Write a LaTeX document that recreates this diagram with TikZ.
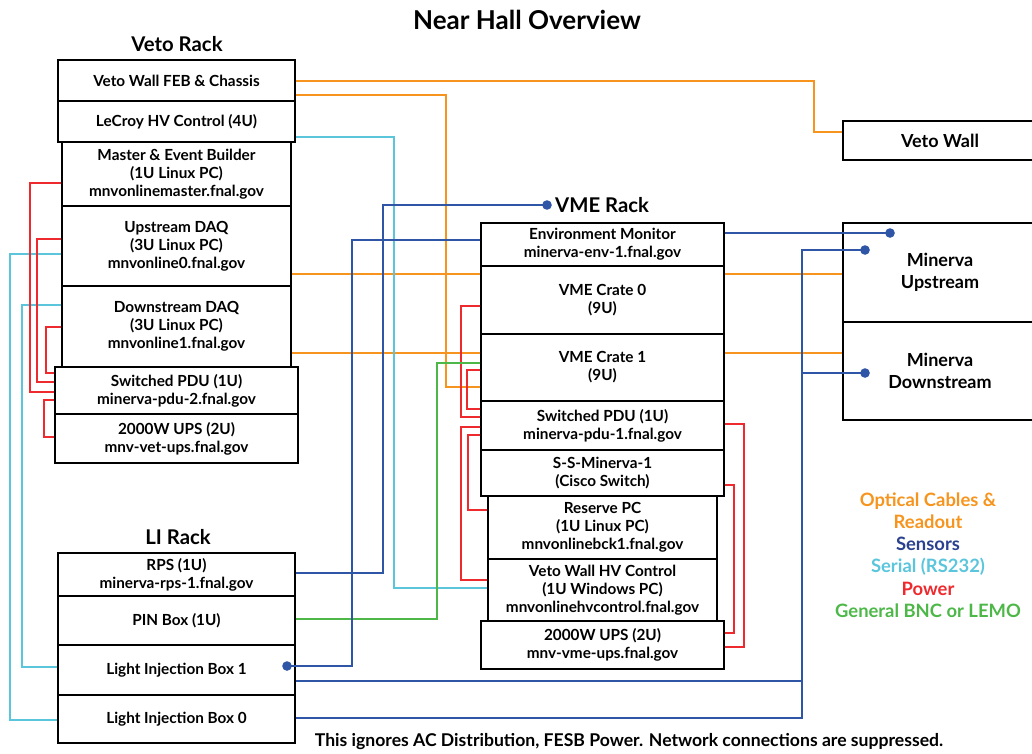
\documentclass[tikz,border=0pt]{standalone}
\usepackage{fontspec}
\setmainfont{Lato}[BoldFont={Lato Bold}]
\usetikzlibrary{calc}
\pgfdeclarelayer{bg}
\pgfsetlayers{bg,main}
\definecolor{copt}{HTML}{F7941D}
\definecolor{csen}{HTML}{2F56A6}
\definecolor{csenleg}{HTML}{2B418F}
\definecolor{cser}{HTML}{5BC5DC}
\definecolor{cpow}{HTML}{EE2A2E}
\definecolor{cbnc}{HTML}{4DB848}
\newcommand\mybf{\fontsize{15.3}{17.8}\selectfont\bfseries}
\tikzset{
  rack/.style={draw, line width=2.5pt, fill=white, align=center, inner sep=0pt, font=\mybf},
  big/.style={font=\fontsize{18}{22}\selectfont\bfseries},
  ttl/.style={font=\fontsize{26}{28}\selectfont\bfseries, inner sep=0pt},
  racktitle/.style={font=\fontsize{20.3}{23}\selectfont\bfseries, inner sep=0pt},
  wire/.style={line width=2pt},
  optw/.style={wire, copt},
  senw/.style={wire, csen},
  serw/.style={wire, cser},
  poww/.style={wire, cpow},
  bncw/.style={wire, cbnc},
  sdot/.style={fill=csen, draw=none},
}
\begin{document}
\begin{tikzpicture}[x=1pt,y=-1pt]
\useasboundingbox (0,0) rectangle (1032,753);
% titles
\node[ttl] (title) at (527,20) {Near Hall Overview};
\node[racktitle] (vetot) at (177,44) {Veto Rack};
\node[racktitle] (lit) at (178,537) {LI Rack};
\node[racktitle, anchor=west] (vmet) at (555,205) {VME Rack};
% Veto rack
\node[rack,minimum width=237pt,minimum height=41pt] (vfeb) at (176.5,80.5) {Veto Wall FEB \& Chassis};
\node[rack,minimum width=237pt,minimum height=41pt] (lecroy) at (176.5,121.5) {LeCroy HV Control (4U)};
\node[rack,minimum width=229pt,minimum height=64pt] (master) at (176.5,174) {Master \& Event Builder\\(1U Linux PC)\\mnvonlinemaster.fnal.gov};
\node[rack,minimum width=229pt,minimum height=80pt] (updaq) at (176.5,246) {Upstream DAQ\\(3U Linux PC)\\mnvonline0.fnal.gov};
\node[rack,minimum width=229pt,minimum height=81pt] (dndaq) at (176.5,326.5) {Downstream DAQ\\(3U Linux PC)\\mnvonline1.fnal.gov};
\node[rack,minimum width=243pt,minimum height=47pt] (pdutwo) at (176.5,390.5) {Switched PDU (1U)\\minerva-pdu-2.fnal.gov};
\node[rack,minimum width=243pt,minimum height=49pt] (upstwo) at (176.5,438.5) {2000W UPS (2U)\\mnv-vet-ups.fnal.gov};
% LI rack
\node[rack,minimum width=237pt,minimum height=43pt] (rps) at (176.5,574.5) {RPS (1U)\\minerva-rps-1.fnal.gov};
\node[rack,minimum width=237pt,minimum height=49pt] (pin) at (176.5,620.5) {PIN Box (1U)};
\node[rack,minimum width=237pt,minimum height=50pt] (libone) at (176.5,670) {Light Injection Box 1};
\node[rack,minimum width=237pt,minimum height=48pt] (libzero) at (176.5,719) {Light Injection Box 0};
% VME rack
\node[rack,minimum width=243pt,minimum height=43pt] (env) at (602.5,244.5) {Environment Monitor\\minerva-env-1.fnal.gov};
\node[rack,minimum width=243pt,minimum height=68pt] (crzero) at (602.5,300) {VME Crate 0\\(9U)};
\node[rack,minimum width=243pt,minimum height=67pt] (crone) at (602.5,367.5) {VME Crate 1\\(9U)};
\node[rack,minimum width=243pt,minimum height=49pt] (pduone) at (602.5,425.5) {Switched PDU (1U)\\minerva-pdu-1.fnal.gov};
\node[rack,minimum width=243pt,minimum height=46pt] (sw) at (602.5,473) {S-S-Minerva-1\\(Cisco Switch)};
\node[rack,minimum width=229pt,minimum height=63pt] (rpc) at (602.5,527.5) {Reserve PC\\(1U Linux PC)\\mnvonlinebck1.fnal.gov};
\node[rack,minimum width=229pt,minimum height=62pt] (hvc) at (602.5,590) {Veto Wall HV Control\\(1U Windows PC)\\mnvonlinehvcontrol.fnal.gov};
\node[rack,minimum width=243pt,minimum height=48pt] (upsone) at (602.5,645) {2000W UPS (2U)\\mnv-vme-ups.fnal.gov};
% detectors
\node[rack,big,minimum width=194pt,minimum height=39pt] (vwall) at (940,140.5) {Veto Wall};
\node[rack,big,minimum width=194pt,minimum height=99pt] (minup) at (940,272.5) {Minerva\\Upstream};
\node[rack,big,minimum width=194pt,minimum height=98pt] (mindn) at (940,371) {Minerva\\Downstream};
% legend and note
\node[align=center, inner sep=0pt, font=\fontsize{18.4}{22.3}\selectfont\bfseries] (legend) at (928,555)
  {\textcolor{copt}{Optical Cables \&}\\\textcolor{copt}{Readout}\\\textcolor{csenleg}{Sensors}\\\textcolor{cser}{Serial (RS232)}\\\textcolor{cpow}{Power}\\\textcolor{cbnc}{General BNC or LEMO}};
\node[inner sep=0pt, font=\fontsize{17.6}{20}\selectfont\bfseries] (note) at (629,742) {This ignores AC Distribution, FESB Power. Network connections are suppressed.};
% coordinates for dots
\coordinate (vmedot) at (547,205);
\coordinate (lidot) at (287,666);
\coordinate (envdot) at (890,233);
\coordinate (mudot) at (865,250);
\coordinate (mddot) at (865,373);
\begin{pgfonlayer}{bg}
% optical
\draw[optw] (vfeb.east) -| ([xshift=-28pt,yshift=8.5pt]vwall.west) -- ([yshift=8.5pt]vwall.west);
\draw[optw] ([yshift=-14.5pt]vfeb.east) -| ([xshift=-34pt,yshift=-19.5pt]crone.west) -- ([yshift=-19.5pt]crone.west);
\draw[optw] ([yshift=-28pt]updaq.east) -- ([yshift=-1.5pt]minup.west);
\draw[optw] ([yshift=-26.5pt]dndaq.east) -- ([yshift=18pt]mindn.west);
% serial
\draw[serw] ([yshift=-15.5pt]lecroy.east) -| ([xshift=-93pt,yshift=2pt]hvc.west) -- ([yshift=2pt]hvc.west);
\draw[serw] ([yshift=-8pt]updaq.west) -| ([xshift=-47pt,yshift=-1pt]libzero.west) -- ([yshift=-1pt]libzero.west);
\draw[serw] ([yshift=21.5pt]dndaq.west) -| ([xshift=-35pt,yshift=3pt]libone.west) -- ([yshift=3pt]libone.west);
% power, veto rack
\draw[poww] ([yshift=-9pt]master.west) -| ([xshift=-24pt,yshift=-1.5pt]pdutwo.west) -- ([yshift=-1.5pt]pdutwo.west);
\draw[poww] ([yshift=7pt]updaq.west) -| ([xshift=-17pt,yshift=8.5pt]pdutwo.west) -- ([yshift=8.5pt]pdutwo.west);
\draw[poww] ([yshift=-0.5pt]dndaq.west) -| ([xshift=-8pt,yshift=17.5pt]pdutwo.west) -- ([yshift=17.5pt]pdutwo.west);
\draw[poww] ([yshift=-9.5pt]pdutwo.west) -| ([xshift=-10pt,yshift=1.5pt]upstwo.west) -- ([yshift=1.5pt]upstwo.west);
% power, VME rack
\draw[poww] ([yshift=-6pt]crzero.west) -| ([xshift=-19pt,yshift=8.5pt]pduone.west) -- ([yshift=8.5pt]pduone.west);
\draw[poww] ([yshift=-2.5pt]crone.west) -| ([xshift=-13pt,yshift=16.5pt]pduone.west) -- ([yshift=16.5pt]pduone.west);
\draw[poww] ([yshift=-1.5pt]pduone.west) -| ([xshift=-26pt,yshift=10pt]hvc.west) -- ([yshift=10pt]hvc.west);
\draw[poww] ([yshift=-9.5pt]pduone.west) -| ([xshift=-19pt,yshift=17.5pt]rpc.west) -- ([yshift=17.5pt]rpc.west);
\draw[poww] ([yshift=1.5pt]pduone.east) -| ([xshift=19pt,yshift=-2pt]upsone.east) -- ([yshift=-2pt]upsone.east);
\draw[poww] ([yshift=-12pt]sw.east) -| ([xshift=9pt,yshift=12pt]upsone.east) -- ([yshift=12pt]upsone.east);
% BNC
\draw[bncw] ([yshift=2pt]pin.east) -| ([xshift=-43pt,yshift=4.5pt]crone.west) -- ([yshift=4.5pt]crone.west);
\end{pgfonlayer}
% sensors
\draw[senw] ([yshift=1.5pt]rps.east) -| ([xshift=-164pt]vmedot) -- (vmedot);
\draw[senw] (lidot) -| ([xshift=-128pt,yshift=4.5pt]env.west) -- ([yshift=4.5pt]env.west);
\draw[senw] ([yshift=11.5pt]env.east) -- (envdot);
\draw[senw] ([yshift=-11pt]libone.east) -| ([xshift=-63pt]mudot) -- (mudot);
\draw[senw] ([yshift=1pt]libzero.east) -| ([xshift=-63pt]mudot);
\draw[senw] ([xshift=-63pt]mddot) -- (mddot);
\fill[sdot] (vmedot) circle (4.8pt);
\fill[sdot] (lidot) circle (4.8pt);
\fill[sdot] (envdot) circle (4.8pt);
\fill[sdot] (mudot) circle (4.8pt);
\fill[sdot] (mddot) circle (4.8pt);
\end{tikzpicture}
\end{document}
